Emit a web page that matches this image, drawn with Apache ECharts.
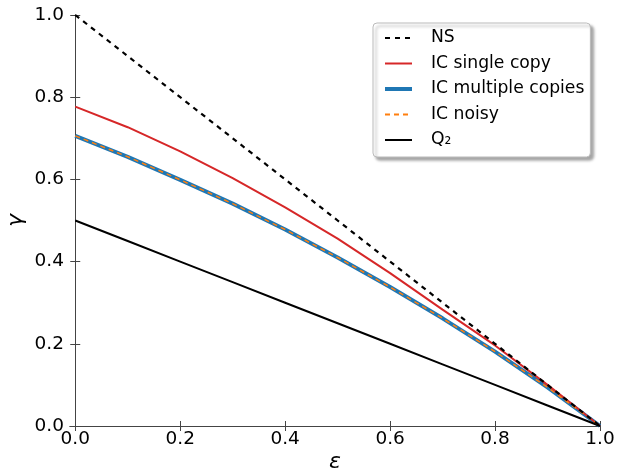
<!DOCTYPE html>
<html>
<head>
<meta charset="utf-8">
<script src="https://cdn.jsdelivr.net/npm/echarts@6/dist/echarts.min.js"></script>
<style>html,body{margin:0;padding:0;background:#fff}#c{width:622px;height:470px}</style>
</head>
<body>
<div id="c"></div>
<script>
var epsValues = [0, 0.1, 0.2, 0.3, 0.4, 0.5, 0.6, 0.7, 0.8, 0.9, 1.0];
var nsValues = [1.0, 0.9, 0.8, 0.7, 0.6, 0.5, 0.4, 0.3, 0.2, 0.1, 0.0];
var icSingleValues = [0.777, 0.727, 0.668, 0.603, 0.532, 0.456, 0.372, 0.283, 0.196, 0.1, 0.0];
var icMultipleValues = [0.706, 0.655, 0.599, 0.541, 0.478, 0.41, 0.338, 0.262, 0.181, 0.094, 0.0];
var icNoisyValues = [0.706, 0.655, 0.599, 0.541, 0.478, 0.41, 0.338, 0.262, 0.181, 0.094, 0.0];
var q2Values = [0.5, 0.45, 0.4, 0.35, 0.3, 0.25, 0.2, 0.15, 0.1, 0.05, 0.0];
var tickValues = [0, 0.2, 0.4, 0.6, 0.8, 1.0];

function pairs(ys) { return epsValues.map(function (x, i) { return [x, ys[i]]; }); }
var font = 'DejaVu Sans';
var frame = { lineStyle: { color: '#444', width: 1 } };
var fmt = function (v) { return v.toFixed(1); };

var chart = echarts.init(document.getElementById('c'), null, { renderer: 'canvas' });
chart.setOption({
  animation: false,
  backgroundColor: '#fff',
  grid: { left: 70, right: 22, top: 15, bottom: 44, containLabel: false, outerBoundsMode: 'none' },
  legend: {
    orient: 'vertical', left: 373, top: 23,
    backgroundColor: '#fff', borderColor: '#bbb', borderWidth: 1, borderRadius: 4,
    shadowColor: 'rgba(0,0,0,0.35)', shadowBlur: 3, shadowOffsetX: 3, shadowOffsetY: 3,
    padding: [5, 6, 7, 10], itemWidth: 27, itemHeight: 14, itemGap: 5.5,
    itemStyle: { opacity: 0 },
    textStyle: { fontFamily: font, fontSize: 17.2, color: '#000', lineHeight: 20, padding: [0, 0, 0, 14] },
    data: ['NS', 'IC single copy', { name: 'IC multiple copies', lineStyle: { width: 4 } }, 'IC noisy', 'Q\u2082']
  },
  xAxis: [{
    type: 'value', min: -0.01, max: 1.0, position: 'bottom',
    name: '\u03b5', nameLocation: 'middle', nameGap: 25, nameMoveOverlap: false,
    nameTextStyle: { fontFamily: font, fontSize: 22, fontStyle: 'italic', color: '#000' },
    axisLine: frame, splitLine: { show: false },
    axisTick: { inside: true, length: 5, customValues: tickValues, lineStyle: { color: '#444' } },
    axisLabel: { customValues: tickValues, formatter: fmt, fontFamily: font, fontSize: 18.5, color: '#000', margin: 4 }
  }, {
    type: 'value', min: -0.01, max: 1.0, position: 'top',
    axisLine: frame, splitLine: { show: false },
    axisTick: { inside: true, length: 5, customValues: tickValues, lineStyle: { color: '#444' } },
    axisLabel: { show: false }
  }],
  yAxis: [{
    type: 'value', min: 0, max: 1.0, interval: 0.2, position: 'left',
    name: '\u03b3', nameLocation: 'middle', nameGap: 43, nameRotate: 90, nameMoveOverlap: false,
    nameTextStyle: { fontFamily: font, fontSize: 22, fontStyle: 'italic', color: '#000' },
    axisLine: { show: true, lineStyle: { color: '#444' } }, splitLine: { show: false },
    axisTick: { show: true, inside: true, length: 5, lineStyle: { color: '#444' } },
    axisLabel: { formatter: fmt, fontFamily: font, fontSize: 18.5, color: '#000', margin: 6, showMinLabel: true, showMaxLabel: true }
  }, {
    type: 'value', min: 0, max: 1.0, interval: 0.2, position: 'right',
    axisLine: { show: true, lineStyle: { color: '#444' } }, splitLine: { show: false },
    axisTick: { show: true, inside: true, length: 5, lineStyle: { color: '#444' } },
    axisLabel: { show: false }
  }],
  series: [
    { name: 'NS', type: 'line', data: pairs(nsValues), symbol: 'none', z: 5,
      lineStyle: { color: '#000', width: 2.2, type: [5, 5] }, itemStyle: { color: '#000' } },
    { name: 'IC single copy', type: 'line', data: pairs(icSingleValues), symbol: 'none', z: 3,
      lineStyle: { color: '#d62728', width: 2 }, itemStyle: { color: '#d62728' } },
    { name: 'IC multiple copies', type: 'line', data: pairs(icMultipleValues), symbol: 'none', z: 2,
      lineStyle: { color: '#1f77b4', width: 4 }, itemStyle: { color: '#1f77b4' } },
    { name: 'IC noisy', type: 'line', data: pairs(icNoisyValues), symbol: 'none', z: 4,
      lineStyle: { color: '#ff7f0e', width: 1.5, type: [5, 4] }, itemStyle: { color: '#ff7f0e' } },
    { name: 'Q\u2082', type: 'line', data: pairs(q2Values), symbol: 'none', z: 3,
      lineStyle: { color: '#000', width: 2 }, itemStyle: { color: '#000' } }
  ]
});
</script>
</body>
</html>
